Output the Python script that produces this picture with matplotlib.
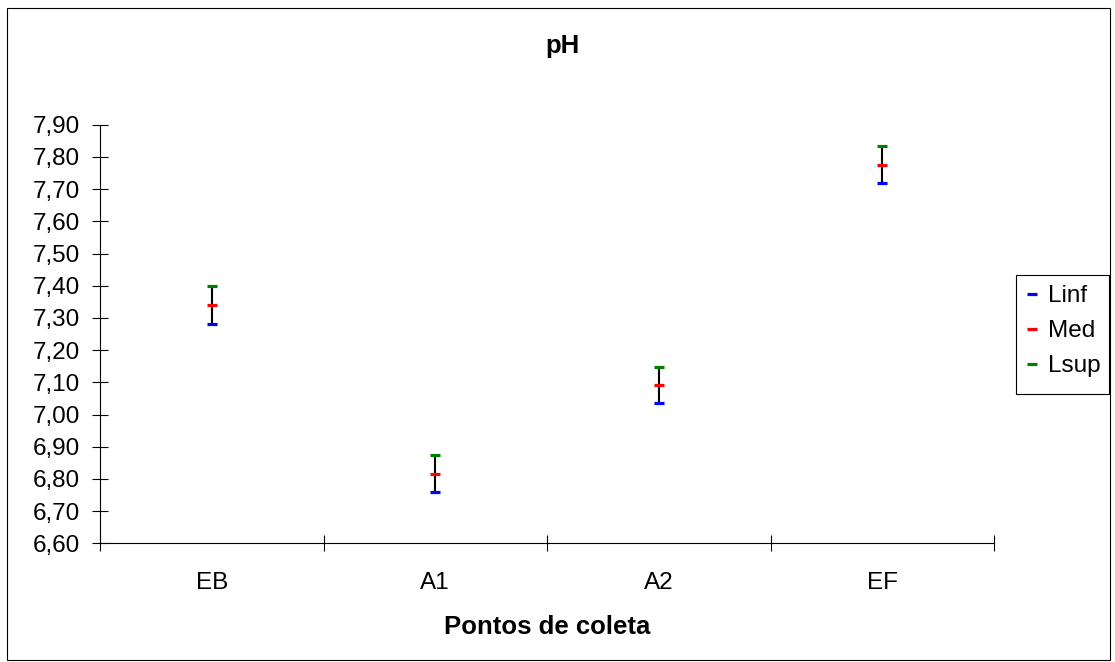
import matplotlib
matplotlib.use("Agg")
import matplotlib.pyplot as plt
from matplotlib.lines import Line2D
from matplotlib.patches import Rectangle
from matplotlib.ticker import FuncFormatter, FixedLocator

categories = ["EB", "A1", "A2", "EF"]
linf = [7.281, 6.759, 7.036, 7.719]
med = [7.340, 6.816, 7.092, 7.775]
lsup = [7.399, 6.873, 7.148, 7.834]
yticks = [6.60, 6.70, 6.80, 6.90, 7.00, 7.10, 7.20, 7.30, 7.40, 7.50, 7.60, 7.70, 7.80, 7.90]

plt.rcParams['font.family'] = ['Liberation Sans', 'DejaVu Sans']

W, H = 1115, 662
FS = 17.5
fig = plt.figure(figsize=(W / 100, H / 100), dpi=100)
ax = fig.add_axes([100 / W, 1 - 543.3 / H, (994 - 100) / W, (543.3 - 124.7) / H])

x = [i + 0.5 for i in range(len(categories))]
ax.vlines(x, linf, lsup, colors='black', lw=1.5, zorder=2)
ms, mew = 7.5, 2.3
ax.plot(x, linf, ls='none', marker='_', color='#0000ff', ms=ms, mew=mew, zorder=3)
ax.plot(x, med, ls='none', marker='_', color='#ff0000', ms=ms, mew=mew, zorder=3)
ax.plot(x, lsup, ls='none', marker='_', color='#008000', ms=ms, mew=mew, zorder=3)

ax.set_xlim(0, len(categories))
ax.set_ylim(6.60, 7.90)
ax.set_yticks(yticks)
ax.yaxis.set_major_formatter(FuncFormatter(lambda v, p: f"{v:.2f}".replace('.', ',')))
ax.xaxis.set_major_locator(FixedLocator(list(range(len(categories) + 1))))
ax.xaxis.set_major_formatter(FuncFormatter(lambda v, p: ""))
ax.xaxis.set_minor_locator(FixedLocator(x))
ax.set_xticklabels(categories, minor=True)
ax.tick_params(axis='x', which='major', direction='inout', length=11.5, width=0.8)
ax.tick_params(axis='x', which='minor', length=0, pad=21, labelsize=FS)
ax.tick_params(axis='y', which='major', direction='inout', length=11.5, width=0.8, pad=8.5, labelsize=FS)

for s in ['top', 'right']:
    ax.spines[s].set_visible(False)
for s in ['left', 'bottom']:
    ax.spines[s].set_linewidth(0.8)

fig.text(562.5 / W, 1 - 53.3 / H, "pH", ha='center', va='baseline', fontsize=18.5, fontweight='bold')
fig.text(547 / W, 1 - 634 / H, "Pontos de coleta", ha='center', va='baseline', fontsize=18.5, fontweight='bold')

handles = [
    Line2D([], [], ls='none', marker='_', color='#0000ff', ms=7, mew=2.3),
    Line2D([], [], ls='none', marker='_', color='#ff0000', ms=7, mew=2.3),
    Line2D([], [], ls='none', marker='_', color='#008000', ms=7, mew=2.3),
]
leg = fig.legend(handles, ["Linf", "Med", "Lsup"], loc='upper left',
                 bbox_to_anchor=(1016 / W, 1 - 275 / H), fontsize=FS,
                 frameon=False, handlelength=0.5, handletextpad=0.4,
                 borderpad=0.42, labelspacing=0.53, borderaxespad=0)

# legend frame
fig.patches.append(Rectangle((1016 / W, 1 - 394 / H), (1109 - 1016) / W, (394 - 275) / H,
                             transform=fig.transFigure, fill=True, fc='white', ec='black',
                             lw=0.8, zorder=0))

# outer chart border
fig.patches.append(Rectangle((7 / W, 2 / H), (1110 - 7) / W, (654 - 2) / H,
                             transform=fig.transFigure, fill=False, ec='black', lw=0.8))

fig.savefig("out.png", dpi=100)
